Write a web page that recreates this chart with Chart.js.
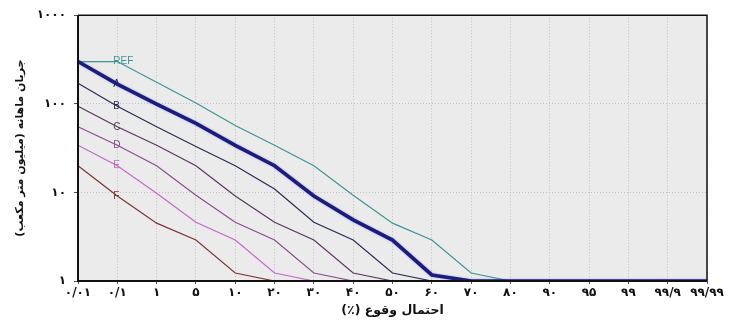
<!DOCTYPE html>
<html>
<head>
<meta charset="utf-8">
<script src="https://cdn.jsdelivr.net/npm/chart.js@4/dist/chart.umd.min.js"></script>
<style>
html,body{margin:0;padding:0;background:#fff;}
#wrap{width:732px;height:320px;position:relative;}
</style>
</head>
<body>
<div id="wrap"><canvas id="c" width="732" height="320"></canvas></div>
<script>
// Categories: probability of occurrence (%)
const categories = ['۰/۰۱','۰/۱','۱','۵','۱۰','۲۰','۳۰','۴۰','۵۰','۶۰','۷۰','۸۰','۹۰','۹۵','۹۹','۹۹/۹','۹۹/۹۹'];
const yTicks = [1, 10, 100, 1000];
const seriesNames = ['REF','A','B','C','D','E','F'];
const refValues = [300,300,175,102,57,34,20,9.3,4.5,2.9,1.23,1,1,1,1,1,1];
const aValues   = [300,167,99,60,34,20,9.1,4.9,2.9,1.17,1,1,1,1,1,1,1];
const bValues   = [171,94,55,33,20,10.9,4.6,2.9,1.23,1,1,1,1,1,1,1,1];
const cValues   = [94,55,34,20,9.1,4.6,2.9,1.23,1,1,1,1,1,1,1,1,1];
const dValues   = [55,34,20,9.3,4.6,2.9,1.23,1,1,1,1,1,1,1,1,1,1];
const eValues   = [34,20,9.8,4.6,2.9,1.23,1,1,1,1,1,1,1,1,1,1,1];
const fValues   = [20,9.1,4.5,2.9,1.23,1,1,1,1,1,1,1,1,1,1,1,1];

const toFa = s => String(s).replace(/[0-9]/g, d => '۰۱۲۳۴۵۶۷۸۹'[d]);

const colors = ['#3f9494','#1c1c7c','#2a2a58','#5c3462','#8e4c92','#c866cc','#7c3636'];
const widths = [1.2,3.6,1.2,1.2,1.2,1.2,1.2];
const allValues = [refValues,aValues,bValues,cValues,dValues,eValues,fValues];

const datasets = seriesNames.map((n,i)=>({
  label: n,
  data: allValues[i],
  borderColor: colors[i],
  backgroundColor: colors[i],
  borderWidth: widths[i],
  pointRadius: 0,
  tension: 0,
  fill: false,
  order: n === 'A' ? -1 : i
}));

const plotDecor = {
  id: 'plotDecor',
  beforeDraw(chart){
    const {ctx, chartArea:a} = chart;
    ctx.save();
    ctx.fillStyle = '#ebebeb';
    ctx.fillRect(a.left, a.top, a.right-a.left, a.bottom-a.top);
    ctx.restore();
  },
  beforeDatasetDraw(chart, args){
    if (chart.data.datasets[args.index].label === 'A') {
      chart.ctx.save();
      chart.ctx.shadowColor = 'rgba(90,90,255,0.5)';
      chart.ctx.shadowBlur = 2;
    }
  },
  afterDatasetDraw(chart, args){
    if (chart.data.datasets[args.index].label === 'A') chart.ctx.restore();
  },
  afterDraw(chart){
    const {ctx, chartArea:a} = chart;
    ctx.save();
    ctx.strokeStyle = '#111';
    ctx.lineWidth = 1.5;
    ctx.beginPath();
    ctx.moveTo(a.left, a.top); ctx.lineTo(a.right, a.top); ctx.lineTo(a.right, a.bottom);
    ctx.stroke();
    ctx.lineWidth = 2;
    ctx.beginPath();
    ctx.moveTo(a.left, a.top); ctx.lineTo(a.left, a.bottom); ctx.lineTo(a.right, a.bottom);
    ctx.stroke();
    // series labels at the second category point
    ctx.font = '10px "Liberation Sans", Arial, sans-serif';
    ctx.textBaseline = 'middle';
    ctx.textAlign = 'left';
    chart.data.datasets.forEach((ds, i) => {
      const meta = chart.getDatasetMeta(i);
      const p = meta.data[1];
      ctx.fillStyle = ds.borderColor;
      ctx.fillText(ds.label, p.x - 4, p.y);
    });
    ctx.restore();
  }
};

const tickFont = { family: '"DejaVu Sans", sans-serif', size: 12, weight: 'bold' };

new Chart(document.getElementById('c'), {
  type: 'line',
  data: { labels: categories, datasets },
  options: {
    responsive: false,
    animation: false,
    layout: { padding: { left: 0, right: 25, top: 15, bottom: 0 } },
    plugins: { legend: { display: false }, tooltip: { enabled: false } },
    scales: {
      x: {
        type: 'category',
        offset: false,
        grid: { color: '#c2c2c2', tickLength: 3, drawTicks: true, tickColor: '#555' },
        border: { display: false, dash: [1,2] },
        ticks: { color: '#111', padding: 2, maxRotation: 0, autoSkip: false, font: tickFont },
        title: { display: true, text: 'احتمال وقوع (٪)\u200F', color: '#111', padding: { top: 2, bottom: 2 }, font: { family: '"DejaVu Sans", sans-serif', size: 12.5, weight: 'bold' } },
        afterFit(s){ s.height = 39; }
      },
      y: {
        type: 'logarithmic',
        min: 1, max: 1000,
        afterBuildTicks(s){ s.ticks = yTicks.map(v => ({ value: v })); },
        grid: { color: '#c2c2c2', tickLength: 4, tickColor: '#555' },
        border: { display: false, dash: [1,2] },
        ticks: { color: '#111', padding: 8, font: tickFont, callback: v => toFa(v) },
        title: { display: true, text: 'جریان ماهانه (میلیون متر مکعب)\u200F', color: '#111', padding: { top: 14, bottom: 0 }, font: { family: '"DejaVu Sans", sans-serif', size: 11, weight: 'bold' } },
        afterFit(s){ s.width = 78; }
      }
    }
  },
  plugins: [plotDecor]
});
</script>
</body>
</html>
